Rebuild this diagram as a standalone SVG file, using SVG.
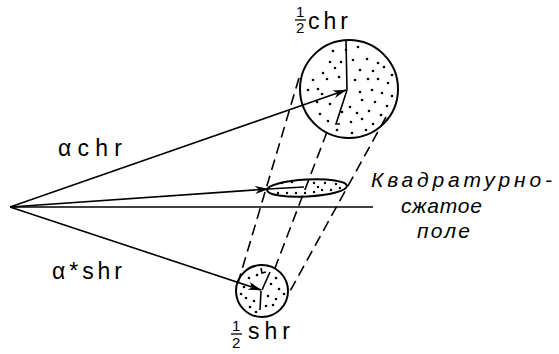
<svg xmlns="http://www.w3.org/2000/svg" width="559" height="354" viewBox="0 0 559 354">
<defs>
<style>
.sh{fill:none;stroke:#000;stroke-width:2}
.ln{fill:none;stroke:#000;stroke-width:1.6}
.ds{fill:none;stroke:#000;stroke-width:1.6;stroke-dasharray:11 6}
.dt{fill:#000}
.lb{font-family:"Liberation Sans",Arial,sans-serif;font-size:23px;fill:#000}
.fr{font-family:"Liberation Sans",Arial,sans-serif;font-size:15px;fill:#000}
.ru{font-family:"Liberation Sans",Arial,sans-serif;font-style:italic;font-size:21px;fill:#000}
</style>
<marker id="ah" viewBox="0 0 14 8" refX="13" refY="4" markerWidth="14" markerHeight="8" markerUnits="userSpaceOnUse" orient="auto">
<path d="M0,0 L14,4 L0,8 L4,4 Z" fill="#000"/>
</marker>
</defs>
<rect width="559" height="354" fill="#fff"/>

<g id="connectors">
<line class="ln" x1="10" y1="207" x2="346" y2="90" marker-end="url(#ah)"/>
<line class="ln" x1="10" y1="207" x2="268" y2="189" marker-end="url(#ah)"/>
<line class="ln" x1="10" y1="207" x2="261" y2="290" marker-end="url(#ah)"/>
<line class="ln" x1="10" y1="207" x2="373" y2="207"/>
<line class="ds" x1="299" y1="78" x2="238" y2="283"/>
<line class="ds" x1="327" y1="132" x2="275" y2="268"/>
<line class="ds" x1="386" y1="117" x2="289" y2="293"/>
</g>

<g id="big-circle">
<circle class="sh" cx="349" cy="89" r="49"/>
<polyline class="ln" points="346,41 347,90"/>
<polyline class="ln" points="347,90 336,124 340,124"/>
<g class="dt">
<circle cx="358" cy="47" r="1.3"/><circle cx="333" cy="51" r="1.3"/><circle cx="353" cy="60" r="1.3"/><circle cx="367" cy="59" r="1.3"/>
<circle cx="330" cy="62" r="1.3"/><circle cx="341" cy="62" r="1.3"/><circle cx="378" cy="63" r="1.3"/><circle cx="323" cy="73" r="1.3"/>
<circle cx="335" cy="68" r="1.3"/><circle cx="360" cy="70" r="1.3"/><circle cx="373" cy="71" r="1.3"/><circle cx="384" cy="67" r="1.3"/>
<circle cx="313" cy="80" r="1.3"/><circle cx="327" cy="79" r="1.3"/><circle cx="339" cy="77" r="1.3"/><circle cx="355" cy="80" r="1.3"/>
<circle cx="368" cy="79" r="1.3"/><circle cx="378" cy="79" r="1.3"/><circle cx="388" cy="83" r="1.3"/><circle cx="308" cy="90" r="1.3"/>
<circle cx="318" cy="89" r="1.3"/><circle cx="360" cy="92" r="1.3"/><circle cx="372" cy="90" r="1.3"/><circle cx="382" cy="93" r="1.3"/>
<circle cx="392" cy="96" r="1.3"/><circle cx="317" cy="102" r="1.3"/><circle cx="330" cy="104" r="1.3"/><circle cx="350" cy="107" r="1.3"/>
<circle cx="362" cy="100" r="1.3"/><circle cx="375" cy="102" r="1.3"/><circle cx="387" cy="106" r="1.3"/><circle cx="320" cy="114" r="1.3"/>
<circle cx="342" cy="112" r="1.3"/><circle cx="357" cy="113" r="1.3"/><circle cx="369" cy="111" r="1.3"/><circle cx="381" cy="115" r="1.3"/>
<circle cx="328" cy="121" r="1.3"/><circle cx="351" cy="122" r="1.3"/><circle cx="362" cy="119" r="1.3"/><circle cx="373" cy="124" r="1.3"/>
<circle cx="337" cy="130" r="1.3"/><circle cx="352" cy="133" r="1.3"/><circle cx="366" cy="130" r="1.3"/><circle cx="346" cy="50" r="1.3"/>
<circle cx="322" cy="94" r="1.3"/><circle cx="392" cy="75" r="1.3"/>
</g>
</g>

<g id="ellipse">
<ellipse class="sh" cx="307" cy="188" rx="40" ry="8.5" transform="rotate(-3 307 188)"/>
<line class="ln" x1="268" y1="189" x2="304" y2="187"/>
<g class="dt">
<circle cx="282" cy="183" r="1.2"/><circle cx="292" cy="182" r="1.2"/><circle cx="314" cy="183" r="1.2"/><circle cx="325" cy="183" r="1.2"/>
<circle cx="336" cy="184" r="1.2"/><circle cx="278" cy="193" r="1.2"/><circle cx="287" cy="193" r="1.2"/><circle cx="296" cy="193" r="1.2"/>
<circle cx="305" cy="193" r="1.2"/><circle cx="314" cy="192" r="1.2"/><circle cx="322" cy="190" r="1.2"/><circle cx="331" cy="190" r="1.2"/>
<circle cx="340" cy="188" r="1.2"/><circle cx="318" cy="187" r="1.2"/>
</g>
</g>

<g id="small-circle">
<circle class="sh" cx="262" cy="291" r="26"/>
<line class="ln" x1="262" y1="290" x2="270" y2="272"/>
<line class="ln" x1="261" y1="291" x2="260" y2="310"/>
<polyline class="ln" points="261,268 262,273 266,272"/>
<g class="dt">
<circle cx="249" cy="278" r="1.3"/><circle cx="257" cy="275" r="1.3"/><circle cx="276" cy="278" r="1.3"/><circle cx="244" cy="287" r="1.3"/>
<circle cx="252" cy="285" r="1.3"/><circle cx="271" cy="284" r="1.3"/><circle cx="279" cy="289" r="1.3"/><circle cx="246" cy="298" r="1.3"/>
<circle cx="254" cy="301" r="1.3"/><circle cx="268" cy="296" r="1.3"/><circle cx="276" cy="299" r="1.3"/><circle cx="250" cy="307" r="1.3"/>
<circle cx="266" cy="306" r="1.3"/><circle cx="273" cy="305" r="1.3"/><circle cx="256" cy="312" r="1.3"/><circle cx="241" cy="294" r="1.3"/>
<circle cx="284" cy="294" r="1.3"/>
</g>
</g>

<g id="labels">
<text class="lb" x="58" y="156" textLength="64" lengthAdjust="spacing">αchr</text>
<text class="lb" x="52" y="279" textLength="70" lengthAdjust="spacing">α*shr</text>
<text class="fr" x="296" y="17">1</text>
<line x1="295" y1="20" x2="306" y2="20" stroke="#000" stroke-width="1.3"/>
<text class="fr" x="296" y="33">2</text>
<text class="lb" x="308" y="29" textLength="40" lengthAdjust="spacing">chr</text>
<text class="fr" x="232" y="331">1</text>
<line x1="231" y1="334" x2="242" y2="334" stroke="#000" stroke-width="1.3"/>
<text class="fr" x="232" y="348">2</text>
<text class="lb" x="248" y="339" textLength="42" lengthAdjust="spacing">shr</text>
<text class="ru" x="371" y="187" textLength="181" lengthAdjust="spacing">Квадратурно-</text>
<text class="ru" x="401" y="213" textLength="81" lengthAdjust="spacing">сжатое</text>
<text class="ru" x="417" y="238" textLength="53" lengthAdjust="spacing">поле</text>
</g>
</svg>
